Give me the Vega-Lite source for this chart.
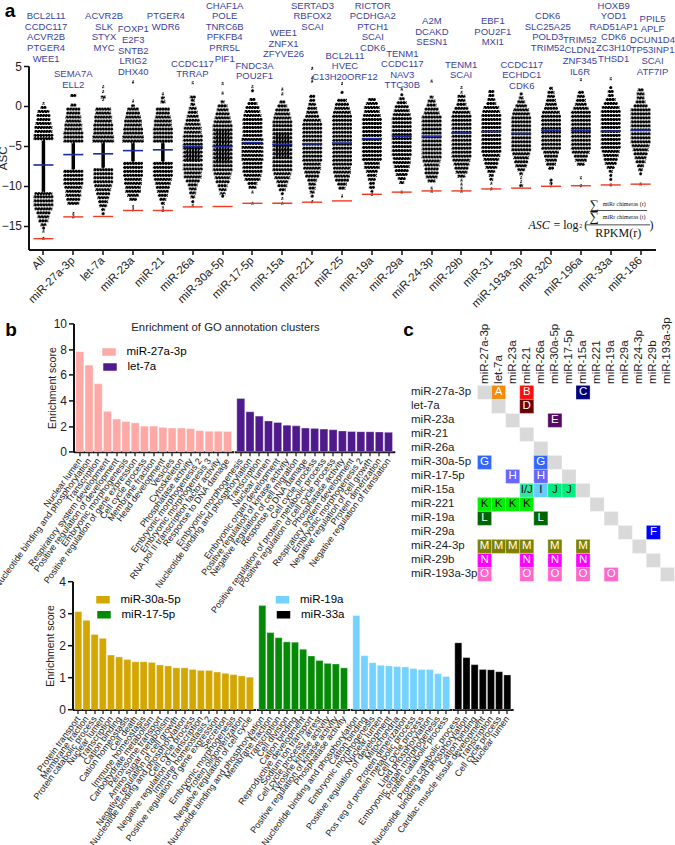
{"$schema":"https://vega.github.io/schema/vega-lite/v6.json","background":"white","padding":{"left":-7.5,"top":0,"right":0,"bottom":0},"bounds":"flush","spacing":73.4,"resolve":{"scale":{"color":"independent","size":"independent"},"legend":{"color":"independent"}},"config":{"font":"Liberation Sans","view":{"stroke":null},"axis":{"domainColor":"#111","tickColor":"#111","labelColor":"#222","titleColor":"#222","grid":false,"titleFontWeight":"normal"},"legend":{"orient":"none"}},
"vconcat":[
{"width":627,"height":183.6,"resolve":{"scale":{"x":"independent"}},"layer":[
{"layer":[
{"data":{"values":[{"m":"All","a":-4.2,"b":-10.9},{"m":"miR-27a-3p","a":-4.5,"b":-8},{"m":"let-7a","a":-4.5,"b":-7.8},{"m":"miR-23a","a":-4.5,"b":-7},{"m":"miR-21","a":-4.5,"b":-7}]},"mark":{"type":"rule","strokeWidth":3.5,"color":"#000"},"encoding":{"x":{"field":"m","type":"nominal","sort":null},"y":{"field":"a","type":"quantitative"},"y2":{"field":"b"}}},
{"data":{"values":[{"m":"miR-26a","a":-5.2,"b":-7},{"m":"miR-30a-5p","a":-3,"b":-7.2},{"m":"miR-15a","a":-3.3,"b":-6.5}]},"mark":{"type":"rule","strokeWidth":15,"color":"#000"},"encoding":{"x":{"field":"m","type":"nominal","sort":null},"y":{"field":"a","type":"quantitative"},"y2":{"field":"b"}}},
{"data":{"values":[
{"m":"All","a":0.3,"w":2},{"m":"All","a":-0.2,"w":6},{"m":"All","a":-0.7,"w":12},{"m":"All","a":-1.2,"w":14},{"m":"All","a":-1.7,"w":14},{"m":"All","a":-2.2,"w":16},{"m":"All","a":-2.7,"w":18},{"m":"All","a":-3.2,"w":18},{"m":"All","a":-3.7,"w":20},{"m":"All","a":-4.1,"w":20},{"m":"All","a":-11,"w":18},{"m":"All","a":-11.4,"w":20},{"m":"All","a":-11.9,"w":20},{"m":"All","a":-12.4,"w":20},{"m":"All","a":-12.9,"w":18},{"m":"All","a":-13.4,"w":14},{"m":"All","a":-13.9,"w":12},{"m":"All","a":-14.4,"w":10},{"m":"All","a":-14.9,"w":6},{"m":"All","a":-15.3,"w":3},{"m":"All","a":-15.7,"w":2},{"m":"All","a":-16.6,"w":2},
{"m":"miR-27a-3p","a":1.3,"w":6},{"m":"miR-27a-3p","a":0.1,"w":6},{"m":"miR-27a-3p","a":-0.4,"w":14},{"m":"miR-27a-3p","a":-0.9,"w":14},{"m":"miR-27a-3p","a":-1.4,"w":16},{"m":"miR-27a-3p","a":-1.9,"w":16},{"m":"miR-27a-3p","a":-2.4,"w":18},{"m":"miR-27a-3p","a":-2.9,"w":18},{"m":"miR-27a-3p","a":-3.4,"w":20},{"m":"miR-27a-3p","a":-3.9,"w":20},{"m":"miR-27a-3p","a":-4.4,"w":20},{"m":"miR-27a-3p","a":-8.2,"w":20},{"m":"miR-27a-3p","a":-8.7,"w":20},{"m":"miR-27a-3p","a":-9.2,"w":20},{"m":"miR-27a-3p","a":-9.7,"w":20},{"m":"miR-27a-3p","a":-10.2,"w":18},{"m":"miR-27a-3p","a":-10.7,"w":16},{"m":"miR-27a-3p","a":-11.2,"w":16},{"m":"miR-27a-3p","a":-11.7,"w":14},{"m":"miR-27a-3p","a":-12.2,"w":12},{"m":"miR-27a-3p","a":-13.5,"w":2},{"m":"miR-27a-3p","a":-13.9,"w":2},
{"m":"let-7a","a":2.4,"w":2},{"m":"let-7a","a":1.8,"w":2},{"m":"let-7a","a":1.1,"w":5},{"m":"let-7a","a":0.8,"w":2},{"m":"let-7a","a":-0.4,"w":16},{"m":"let-7a","a":-0.9,"w":16},{"m":"let-7a","a":-1.4,"w":18},{"m":"let-7a","a":-1.9,"w":18},{"m":"let-7a","a":-2.4,"w":20},{"m":"let-7a","a":-2.9,"w":20},{"m":"let-7a","a":-3.4,"w":20},{"m":"let-7a","a":-3.9,"w":22},{"m":"let-7a","a":-4.4,"w":22},{"m":"let-7a","a":-8,"w":20},{"m":"let-7a","a":-8.5,"w":20},{"m":"let-7a","a":-9,"w":20},{"m":"let-7a","a":-9.5,"w":20},{"m":"let-7a","a":-10,"w":18},{"m":"let-7a","a":-10.5,"w":16},{"m":"let-7a","a":-11,"w":14},{"m":"let-7a","a":-11.5,"w":12},{"m":"let-7a","a":-12,"w":10},{"m":"let-7a","a":-12.5,"w":8},{"m":"let-7a","a":-13,"w":4},{"m":"let-7a","a":-13.5,"w":3},
{"m":"miR-23a","a":3,"w":2},{"m":"miR-23a","a":0.6,"w":2},{"m":"miR-23a","a":0,"w":4},{"m":"miR-23a","a":-0.4,"w":12},{"m":"miR-23a","a":-0.9,"w":14},{"m":"miR-23a","a":-1.4,"w":16},{"m":"miR-23a","a":-1.9,"w":18},{"m":"miR-23a","a":-2.4,"w":18},{"m":"miR-23a","a":-2.9,"w":20},{"m":"miR-23a","a":-3.4,"w":20},{"m":"miR-23a","a":-3.9,"w":22},{"m":"miR-23a","a":-4.4,"w":22},{"m":"miR-23a","a":-7.2,"w":20},{"m":"miR-23a","a":-7.7,"w":20},{"m":"miR-23a","a":-8.2,"w":20},{"m":"miR-23a","a":-8.7,"w":20},{"m":"miR-23a","a":-9.2,"w":18},{"m":"miR-23a","a":-9.7,"w":18},{"m":"miR-23a","a":-10.2,"w":16},{"m":"miR-23a","a":-10.7,"w":16},{"m":"miR-23a","a":-11.2,"w":12},{"m":"miR-23a","a":-11.7,"w":8},{"m":"miR-23a","a":-12.6,"w":2},{"m":"miR-23a","a":-13,"w":2},
{"m":"miR-21","a":1.5,"w":2},{"m":"miR-21","a":1,"w":4},{"m":"miR-21","a":0.5,"w":5},{"m":"miR-21","a":-0.4,"w":14},{"m":"miR-21","a":-0.9,"w":14},{"m":"miR-21","a":-1.4,"w":16},{"m":"miR-21","a":-1.9,"w":18},{"m":"miR-21","a":-2.4,"w":18},{"m":"miR-21","a":-2.9,"w":20},{"m":"miR-21","a":-3.4,"w":20},{"m":"miR-21","a":-3.9,"w":20},{"m":"miR-21","a":-4.4,"w":20},{"m":"miR-21","a":-7.2,"w":20},{"m":"miR-21","a":-7.7,"w":20},{"m":"miR-21","a":-8.2,"w":20},{"m":"miR-21","a":-8.7,"w":20},{"m":"miR-21","a":-9.2,"w":18},{"m":"miR-21","a":-9.7,"w":16},{"m":"miR-21","a":-10.2,"w":14},{"m":"miR-21","a":-10.7,"w":12},{"m":"miR-21","a":-11.2,"w":10},{"m":"miR-21","a":-11.7,"w":7},{"m":"miR-21","a":-12.2,"w":4},{"m":"miR-21","a":-12.7,"w":2},{"m":"miR-21","a":-13.1,"w":2},
{"m":"miR-26a","a":2.9,"w":2},{"m":"miR-26a","a":1.1,"w":6},{"m":"miR-26a","a":0.7,"w":4},{"m":"miR-26a","a":0.2,"w":5},{"m":"miR-26a","a":-0.3,"w":8},{"m":"miR-26a","a":-0.8,"w":10},{"m":"miR-26a","a":-1.3,"w":12},{"m":"miR-26a","a":-1.8,"w":14},{"m":"miR-26a","a":-2.3,"w":16},{"m":"miR-26a","a":-2.8,"w":18},{"m":"miR-26a","a":-3.3,"w":18},{"m":"miR-26a","a":-3.8,"w":20},{"m":"miR-26a","a":-4.3,"w":20},{"m":"miR-26a","a":-4.8,"w":20},{"m":"miR-26a","a":-5.3,"w":20},{"m":"miR-26a","a":-5.8,"w":20},{"m":"miR-26a","a":-6.3,"w":20},{"m":"miR-26a","a":-6.8,"w":20},{"m":"miR-26a","a":-7.4,"w":20},{"m":"miR-26a","a":-7.9,"w":20},{"m":"miR-26a","a":-8.4,"w":18},{"m":"miR-26a","a":-8.9,"w":18},{"m":"miR-26a","a":-9.4,"w":14},{"m":"miR-26a","a":-9.9,"w":10},{"m":"miR-26a","a":-10.4,"w":8},{"m":"miR-26a","a":-10.9,"w":7},{"m":"miR-26a","a":-11.4,"w":5},{"m":"miR-26a","a":-12,"w":3},{"m":"miR-26a","a":-12.5,"w":2},
{"m":"miR-30a-5p","a":2.8,"w":2},{"m":"miR-30a-5p","a":1.6,"w":2},{"m":"miR-30a-5p","a":0.5,"w":4},{"m":"miR-30a-5p","a":0,"w":10},{"m":"miR-30a-5p","a":-0.5,"w":12},{"m":"miR-30a-5p","a":-1,"w":14},{"m":"miR-30a-5p","a":-1.5,"w":16},{"m":"miR-30a-5p","a":-2,"w":18},{"m":"miR-30a-5p","a":-2.5,"w":20},{"m":"miR-30a-5p","a":-3,"w":20},{"m":"miR-30a-5p","a":-3.5,"w":20},{"m":"miR-30a-5p","a":-4,"w":20},{"m":"miR-30a-5p","a":-4.5,"w":20},{"m":"miR-30a-5p","a":-5,"w":20},{"m":"miR-30a-5p","a":-5.5,"w":20},{"m":"miR-30a-5p","a":-6,"w":20},{"m":"miR-30a-5p","a":-6.5,"w":20},{"m":"miR-30a-5p","a":-7,"w":20},{"m":"miR-30a-5p","a":-7.5,"w":20},{"m":"miR-30a-5p","a":-8,"w":20},{"m":"miR-30a-5p","a":-8.5,"w":18},{"m":"miR-30a-5p","a":-9,"w":16},{"m":"miR-30a-5p","a":-9.5,"w":14},{"m":"miR-30a-5p","a":-10,"w":10},{"m":"miR-30a-5p","a":-10.5,"w":8},{"m":"miR-30a-5p","a":-11,"w":6},{"m":"miR-30a-5p","a":-11.3,"w":3},
{"m":"miR-17-5p","a":2.4,"w":2},{"m":"miR-17-5p","a":1.9,"w":3},{"m":"miR-17-5p","a":0.8,"w":6},{"m":"miR-17-5p","a":0.3,"w":10},{"m":"miR-17-5p","a":-0.2,"w":14},{"m":"miR-17-5p","a":-0.7,"w":16},{"m":"miR-17-5p","a":-1.2,"w":18},{"m":"miR-17-5p","a":-1.7,"w":20},{"m":"miR-17-5p","a":-2.2,"w":20},{"m":"miR-17-5p","a":-2.7,"w":20},{"m":"miR-17-5p","a":-3.2,"w":20},{"m":"miR-17-5p","a":-3.7,"w":20},{"m":"miR-17-5p","a":-4.2,"w":22},{"m":"miR-17-5p","a":-4.7,"w":22},{"m":"miR-17-5p","a":-5.2,"w":22},{"m":"miR-17-5p","a":-5.7,"w":22},{"m":"miR-17-5p","a":-6.2,"w":22},{"m":"miR-17-5p","a":-6.7,"w":22},{"m":"miR-17-5p","a":-7.2,"w":20},{"m":"miR-17-5p","a":-7.7,"w":20},{"m":"miR-17-5p","a":-8.2,"w":20},{"m":"miR-17-5p","a":-8.7,"w":18},{"m":"miR-17-5p","a":-9.2,"w":16},{"m":"miR-17-5p","a":-9.7,"w":10},{"m":"miR-17-5p","a":-10.2,"w":8},{"m":"miR-17-5p","a":-10.8,"w":2},{"m":"miR-17-5p","a":-12.2,"w":2},
{"m":"miR-15a","a":2.1,"w":2},{"m":"miR-15a","a":1.5,"w":2},{"m":"miR-15a","a":0.5,"w":6},{"m":"miR-15a","a":0,"w":10},{"m":"miR-15a","a":-0.5,"w":14},{"m":"miR-15a","a":-1,"w":16},{"m":"miR-15a","a":-1.5,"w":18},{"m":"miR-15a","a":-2,"w":20},{"m":"miR-15a","a":-2.5,"w":20},{"m":"miR-15a","a":-3,"w":20},{"m":"miR-15a","a":-3.5,"w":20},{"m":"miR-15a","a":-4,"w":20},{"m":"miR-15a","a":-4.5,"w":20},{"m":"miR-15a","a":-5,"w":20},{"m":"miR-15a","a":-5.5,"w":20},{"m":"miR-15a","a":-6,"w":20},{"m":"miR-15a","a":-6.5,"w":20},{"m":"miR-15a","a":-7,"w":20},{"m":"miR-15a","a":-7.5,"w":20},{"m":"miR-15a","a":-8,"w":20},{"m":"miR-15a","a":-8.5,"w":18},{"m":"miR-15a","a":-9,"w":16},{"m":"miR-15a","a":-9.5,"w":12},{"m":"miR-15a","a":-10,"w":10},{"m":"miR-15a","a":-10.5,"w":7},{"m":"miR-15a","a":-11,"w":3},{"m":"miR-15a","a":-11.6,"w":2},{"m":"miR-15a","a":-12.2,"w":2},
{"m":"miR-221","a":4.7,"w":2},{"m":"miR-221","a":3.5,"w":2},{"m":"miR-221","a":3.1,"w":2},{"m":"miR-221","a":1.2,"w":6},{"m":"miR-221","a":0.7,"w":6},{"m":"miR-221","a":0.2,"w":8},{"m":"miR-221","a":-0.3,"w":10},{"m":"miR-221","a":-0.8,"w":12},{"m":"miR-221","a":-1.3,"w":14},{"m":"miR-221","a":-1.8,"w":18},{"m":"miR-221","a":-2.3,"w":20},{"m":"miR-221","a":-2.8,"w":20},{"m":"miR-221","a":-3.3,"w":20},{"m":"miR-221","a":-3.8,"w":20},{"m":"miR-221","a":-4.3,"w":20},{"m":"miR-221","a":-4.8,"w":20},{"m":"miR-221","a":-5.3,"w":20},{"m":"miR-221","a":-5.8,"w":20},{"m":"miR-221","a":-6.3,"w":20},{"m":"miR-221","a":-6.8,"w":20},{"m":"miR-221","a":-7.3,"w":18},{"m":"miR-221","a":-7.8,"w":18},{"m":"miR-221","a":-8.3,"w":16},{"m":"miR-221","a":-8.8,"w":14},{"m":"miR-221","a":-9.3,"w":10},{"m":"miR-221","a":-9.8,"w":8},{"m":"miR-221","a":-10.3,"w":7},{"m":"miR-221","a":-10.8,"w":5},{"m":"miR-221","a":-11.3,"w":3},{"m":"miR-221","a":-12,"w":2},
{"m":"miR-25","a":2.8,"w":2},{"m":"miR-25","a":1.7,"w":3},{"m":"miR-25","a":0.7,"w":10},{"m":"miR-25","a":0.2,"w":14},{"m":"miR-25","a":-0.3,"w":16},{"m":"miR-25","a":-0.8,"w":18},{"m":"miR-25","a":-1.3,"w":20},{"m":"miR-25","a":-1.8,"w":20},{"m":"miR-25","a":-2.3,"w":20},{"m":"miR-25","a":-2.8,"w":20},{"m":"miR-25","a":-3.3,"w":20},{"m":"miR-25","a":-3.8,"w":20},{"m":"miR-25","a":-4.3,"w":20},{"m":"miR-25","a":-4.8,"w":20},{"m":"miR-25","a":-5.3,"w":20},{"m":"miR-25","a":-5.8,"w":20},{"m":"miR-25","a":-6.3,"w":20},{"m":"miR-25","a":-6.8,"w":20},{"m":"miR-25","a":-7.3,"w":20},{"m":"miR-25","a":-7.8,"w":18},{"m":"miR-25","a":-8.3,"w":18},{"m":"miR-25","a":-8.8,"w":16},{"m":"miR-25","a":-9.3,"w":14},{"m":"miR-25","a":-9.8,"w":10},{"m":"miR-25","a":-10.3,"w":7},{"m":"miR-25","a":-11.3,"w":2},
{"m":"miR-19a","a":0.8,"w":8},{"m":"miR-19a","a":0.3,"w":12},{"m":"miR-19a","a":-0.2,"w":16},{"m":"miR-19a","a":-0.7,"w":16},{"m":"miR-19a","a":-1.2,"w":18},{"m":"miR-19a","a":-1.7,"w":20},{"m":"miR-19a","a":-2.2,"w":20},{"m":"miR-19a","a":-2.7,"w":20},{"m":"miR-19a","a":-3.2,"w":20},{"m":"miR-19a","a":-3.7,"w":20},{"m":"miR-19a","a":-4.2,"w":20},{"m":"miR-19a","a":-4.7,"w":20},{"m":"miR-19a","a":-5.2,"w":20},{"m":"miR-19a","a":-5.7,"w":20},{"m":"miR-19a","a":-6.2,"w":20},{"m":"miR-19a","a":-6.7,"w":20},{"m":"miR-19a","a":-7.2,"w":16},{"m":"miR-19a","a":-7.7,"w":16},{"m":"miR-19a","a":-8.2,"w":12},{"m":"miR-19a","a":-8.7,"w":10},{"m":"miR-19a","a":-9.2,"w":8},{"m":"miR-19a","a":-9.7,"w":6},{"m":"miR-19a","a":-10.2,"w":6},{"m":"miR-19a","a":-10.7,"w":3},{"m":"miR-19a","a":-11.1,"w":2},
{"m":"miR-29a","a":2.1,"w":2},{"m":"miR-29a","a":1.4,"w":3},{"m":"miR-29a","a":0.9,"w":6},{"m":"miR-29a","a":0.4,"w":10},{"m":"miR-29a","a":-0.1,"w":14},{"m":"miR-29a","a":-0.6,"w":16},{"m":"miR-29a","a":-1.1,"w":18},{"m":"miR-29a","a":-1.6,"w":20},{"m":"miR-29a","a":-2.1,"w":20},{"m":"miR-29a","a":-2.6,"w":20},{"m":"miR-29a","a":-3.1,"w":20},{"m":"miR-29a","a":-3.6,"w":20},{"m":"miR-29a","a":-4.1,"w":20},{"m":"miR-29a","a":-4.6,"w":20},{"m":"miR-29a","a":-5.1,"w":20},{"m":"miR-29a","a":-5.6,"w":20},{"m":"miR-29a","a":-6.1,"w":20},{"m":"miR-29a","a":-6.6,"w":18},{"m":"miR-29a","a":-7.1,"w":18},{"m":"miR-29a","a":-7.6,"w":16},{"m":"miR-29a","a":-8.1,"w":14},{"m":"miR-29a","a":-8.6,"w":12},{"m":"miR-29a","a":-9.1,"w":8},{"m":"miR-29a","a":-9.6,"w":5},{"m":"miR-29a","a":-10.8,"w":2},
{"m":"miR-24-3p","a":3.1,"w":2},{"m":"miR-24-3p","a":1.1,"w":4},{"m":"miR-24-3p","a":0.6,"w":8},{"m":"miR-24-3p","a":0.1,"w":10},{"m":"miR-24-3p","a":-0.4,"w":14},{"m":"miR-24-3p","a":-0.9,"w":16},{"m":"miR-24-3p","a":-1.4,"w":20},{"m":"miR-24-3p","a":-1.9,"w":20},{"m":"miR-24-3p","a":-2.4,"w":20},{"m":"miR-24-3p","a":-2.9,"w":20},{"m":"miR-24-3p","a":-3.4,"w":20},{"m":"miR-24-3p","a":-3.9,"w":20},{"m":"miR-24-3p","a":-4.4,"w":20},{"m":"miR-24-3p","a":-4.9,"w":20},{"m":"miR-24-3p","a":-5.4,"w":20},{"m":"miR-24-3p","a":-5.9,"w":20},{"m":"miR-24-3p","a":-6.4,"w":20},{"m":"miR-24-3p","a":-6.9,"w":18},{"m":"miR-24-3p","a":-7.4,"w":16},{"m":"miR-24-3p","a":-7.9,"w":14},{"m":"miR-24-3p","a":-8.4,"w":14},{"m":"miR-24-3p","a":-8.9,"w":12},{"m":"miR-24-3p","a":-9.4,"w":8},{"m":"miR-24-3p","a":-10.3,"w":2},{"m":"miR-24-3p","a":-10.7,"w":2},
{"m":"miR-29b","a":2.3,"w":2},{"m":"miR-29b","a":1.7,"w":2},{"m":"miR-29b","a":1.2,"w":8},{"m":"miR-29b","a":0.7,"w":8},{"m":"miR-29b","a":0.2,"w":10},{"m":"miR-29b","a":-0.3,"w":14},{"m":"miR-29b","a":-0.8,"w":18},{"m":"miR-29b","a":-1.3,"w":20},{"m":"miR-29b","a":-1.8,"w":20},{"m":"miR-29b","a":-2.3,"w":20},{"m":"miR-29b","a":-2.8,"w":20},{"m":"miR-29b","a":-3.3,"w":20},{"m":"miR-29b","a":-3.8,"w":20},{"m":"miR-29b","a":-4.3,"w":20},{"m":"miR-29b","a":-4.8,"w":20},{"m":"miR-29b","a":-5.3,"w":20},{"m":"miR-29b","a":-5.8,"w":20},{"m":"miR-29b","a":-6.3,"w":20},{"m":"miR-29b","a":-6.8,"w":18},{"m":"miR-29b","a":-7.3,"w":16},{"m":"miR-29b","a":-7.8,"w":14},{"m":"miR-29b","a":-8.3,"w":12},{"m":"miR-29b","a":-8.8,"w":8},{"m":"miR-29b","a":-9.3,"w":2},{"m":"miR-29b","a":-9.8,"w":2},{"m":"miR-29b","a":-10.3,"w":2},{"m":"miR-29b","a":-10.7,"w":2},
{"m":"miR-31","a":1.8,"w":6},{"m":"miR-31","a":1.3,"w":6},{"m":"miR-31","a":0.8,"w":8},{"m":"miR-31","a":0.3,"w":10},{"m":"miR-31","a":-0.2,"w":16},{"m":"miR-31","a":-0.7,"w":18},{"m":"miR-31","a":-1.2,"w":20},{"m":"miR-31","a":-1.7,"w":20},{"m":"miR-31","a":-2.2,"w":20},{"m":"miR-31","a":-2.7,"w":20},{"m":"miR-31","a":-3.2,"w":20},{"m":"miR-31","a":-3.7,"w":20},{"m":"miR-31","a":-4.2,"w":20},{"m":"miR-31","a":-4.7,"w":20},{"m":"miR-31","a":-5.2,"w":20},{"m":"miR-31","a":-5.7,"w":20},{"m":"miR-31","a":-6.2,"w":18},{"m":"miR-31","a":-6.7,"w":16},{"m":"miR-31","a":-7.2,"w":14},{"m":"miR-31","a":-7.7,"w":12},{"m":"miR-31","a":-8.2,"w":8},{"m":"miR-31","a":-8.7,"w":5},{"m":"miR-31","a":-9.2,"w":4},{"m":"miR-31","a":-9.7,"w":2},{"m":"miR-31","a":-10.4,"w":2},
{"m":"miR-193a-3p","a":1.5,"w":3},{"m":"miR-193a-3p","a":1,"w":5},{"m":"miR-193a-3p","a":0.5,"w":8},{"m":"miR-193a-3p","a":0,"w":12},{"m":"miR-193a-3p","a":-0.5,"w":16},{"m":"miR-193a-3p","a":-1,"w":18},{"m":"miR-193a-3p","a":-1.5,"w":20},{"m":"miR-193a-3p","a":-2,"w":20},{"m":"miR-193a-3p","a":-2.5,"w":20},{"m":"miR-193a-3p","a":-3,"w":20},{"m":"miR-193a-3p","a":-3.5,"w":20},{"m":"miR-193a-3p","a":-4,"w":20},{"m":"miR-193a-3p","a":-4.5,"w":20},{"m":"miR-193a-3p","a":-5,"w":20},{"m":"miR-193a-3p","a":-5.5,"w":20},{"m":"miR-193a-3p","a":-6,"w":18},{"m":"miR-193a-3p","a":-6.5,"w":16},{"m":"miR-193a-3p","a":-7,"w":14},{"m":"miR-193a-3p","a":-7.5,"w":12},{"m":"miR-193a-3p","a":-8,"w":8},{"m":"miR-193a-3p","a":-8.5,"w":4},{"m":"miR-193a-3p","a":-9,"w":2},{"m":"miR-193a-3p","a":-9.5,"w":2},{"m":"miR-193a-3p","a":-10,"w":4},
{"m":"miR-320","a":2.2,"w":4},{"m":"miR-320","a":1.7,"w":7},{"m":"miR-320","a":1.2,"w":8},{"m":"miR-320","a":0.7,"w":10},{"m":"miR-320","a":0.2,"w":12},{"m":"miR-320","a":-0.3,"w":14},{"m":"miR-320","a":-0.8,"w":18},{"m":"miR-320","a":-1.3,"w":20},{"m":"miR-320","a":-1.8,"w":20},{"m":"miR-320","a":-2.3,"w":20},{"m":"miR-320","a":-2.8,"w":20},{"m":"miR-320","a":-3.3,"w":20},{"m":"miR-320","a":-3.8,"w":20},{"m":"miR-320","a":-4.3,"w":20},{"m":"miR-320","a":-4.8,"w":20},{"m":"miR-320","a":-5.3,"w":20},{"m":"miR-320","a":-5.8,"w":16},{"m":"miR-320","a":-6.3,"w":14},{"m":"miR-320","a":-6.8,"w":12},{"m":"miR-320","a":-7.3,"w":10},{"m":"miR-320","a":-7.8,"w":6},{"m":"miR-320","a":-9.3,"w":3},{"m":"miR-320","a":-9.7,"w":3},{"m":"miR-320","a":-10,"w":2},
{"m":"miR-196a","a":3.3,"w":2},{"m":"miR-196a","a":1.7,"w":6},{"m":"miR-196a","a":1.2,"w":8},{"m":"miR-196a","a":0.7,"w":10},{"m":"miR-196a","a":0.2,"w":12},{"m":"miR-196a","a":-0.3,"w":16},{"m":"miR-196a","a":-0.8,"w":20},{"m":"miR-196a","a":-1.3,"w":20},{"m":"miR-196a","a":-1.8,"w":20},{"m":"miR-196a","a":-2.3,"w":20},{"m":"miR-196a","a":-2.8,"w":20},{"m":"miR-196a","a":-3.3,"w":20},{"m":"miR-196a","a":-3.8,"w":20},{"m":"miR-196a","a":-4.3,"w":20},{"m":"miR-196a","a":-4.8,"w":20},{"m":"miR-196a","a":-5.3,"w":20},{"m":"miR-196a","a":-5.8,"w":18},{"m":"miR-196a","a":-6.3,"w":14},{"m":"miR-196a","a":-6.8,"w":12},{"m":"miR-196a","a":-7.3,"w":8},{"m":"miR-196a","a":-9,"w":2},{"m":"miR-196a","a":-10,"w":2},
{"m":"miR-33a","a":3.4,"w":2},{"m":"miR-33a","a":2.3,"w":3},{"m":"miR-33a","a":1.8,"w":6},{"m":"miR-33a","a":1.3,"w":6},{"m":"miR-33a","a":0.8,"w":10},{"m":"miR-33a","a":0.3,"w":14},{"m":"miR-33a","a":-0.2,"w":18},{"m":"miR-33a","a":-0.7,"w":20},{"m":"miR-33a","a":-1.2,"w":20},{"m":"miR-33a","a":-1.7,"w":20},{"m":"miR-33a","a":-2.2,"w":20},{"m":"miR-33a","a":-2.7,"w":20},{"m":"miR-33a","a":-3.2,"w":20},{"m":"miR-33a","a":-3.7,"w":20},{"m":"miR-33a","a":-4.2,"w":20},{"m":"miR-33a","a":-4.7,"w":20},{"m":"miR-33a","a":-5.2,"w":20},{"m":"miR-33a","a":-5.7,"w":18},{"m":"miR-33a","a":-6.2,"w":16},{"m":"miR-33a","a":-6.7,"w":14},{"m":"miR-33a","a":-7.2,"w":12},{"m":"miR-33a","a":-7.7,"w":8},{"m":"miR-33a","a":-8.2,"w":4},{"m":"miR-33a","a":-8.7,"w":3},{"m":"miR-33a","a":-9.2,"w":3},{"m":"miR-33a","a":-9.9,"w":2},
{"m":"miR-186","a":2,"w":6},{"m":"miR-186","a":1.5,"w":8},{"m":"miR-186","a":1,"w":8},{"m":"miR-186","a":0.5,"w":10},{"m":"miR-186","a":0,"w":14},{"m":"miR-186","a":-0.5,"w":20},{"m":"miR-186","a":-1,"w":20},{"m":"miR-186","a":-1.5,"w":20},{"m":"miR-186","a":-2,"w":20},{"m":"miR-186","a":-2.5,"w":20},{"m":"miR-186","a":-3,"w":20},{"m":"miR-186","a":-3.5,"w":20},{"m":"miR-186","a":-4,"w":20},{"m":"miR-186","a":-4.5,"w":20},{"m":"miR-186","a":-5,"w":18},{"m":"miR-186","a":-5.5,"w":16},{"m":"miR-186","a":-6,"w":14},{"m":"miR-186","a":-6.5,"w":12},{"m":"miR-186","a":-7,"w":10},{"m":"miR-186","a":-7.5,"w":7},{"m":"miR-186","a":-8,"w":5},{"m":"miR-186","a":-8.5,"w":3},{"m":"miR-186","a":-9.8,"w":2}
]},"mark":{"type":"tick","orient":"horizontal","thickness":3,"fill":"#000","stroke":"#fff","strokeWidth":1.8,"strokeDash":[0.6,2.2],"opacity":1},"encoding":{"x":{"field":"m","type":"nominal","sort":null},"y":{"field":"a","type":"quantitative"},"size":{"field":"w","type":"quantitative","legend":null,"scale":{"domain":[0,24],"range":[0,24]}}}},
{"data":{"values":[{"m":"All","v":-7.4},{"m":"miR-27a-3p","v":-6.1},{"m":"let-7a","v":-6},{"m":"miR-23a","v":-5.6},{"m":"miR-21","v":-5.5},{"m":"miR-26a","v":-5.1},{"m":"miR-30a-5p","v":-5.1},{"m":"miR-17-5p","v":-4.6},{"m":"miR-15a","v":-4.8},{"m":"miR-221","v":-4.75},{"m":"miR-25","v":-4.65},{"m":"miR-19a","v":-4.1},{"m":"miR-29a","v":-3.8},{"m":"miR-24-3p","v":-3.8},{"m":"miR-29b","v":-3.4},{"m":"miR-31","v":-3.2},{"m":"miR-193a-3p","v":-3.45},{"m":"miR-320","v":-3.07},{"m":"miR-196a","v":-3.07},{"m":"miR-33a","v":-3.15},{"m":"miR-186","v":-3.05}]},"mark":{"type":"tick","orient":"horizontal","size":20,"thickness":1.6,"color":"#1c2c9c","opacity":1},"encoding":{"x":{"field":"m","type":"nominal","sort":null,"scale":{"paddingInner":0,"paddingOuter":0,"domain":["All","miR-27a-3p","let-7a","miR-23a","miR-21","miR-26a","miR-30a-5p","miR-17-5p","miR-15a","miR-221","miR-25","miR-19a","miR-29a","miR-24-3p","miR-29b","miR-31","miR-193a-3p","miR-320","miR-196a","miR-33a","miR-186"]},"axis":{"title":null,"labelAngle":-45,"labelAlign":"right","labelBaseline":"middle","labelFontSize":11.5,"labelPadding":4,"labelLimit":200,"labelOverlap":false,"domainWidth":2,"tickWidth":1.5,"tickSize":5}},"y":{"field":"v","type":"quantitative","scale":{"domain":[-18,5],"nice":false,"zero":false},"axis":{"title":"ASC","values":[-15,-10,-5,0,5],"labelFontSize":12,"titleFontSize":11.5,"titlePadding":-7.5,"domainWidth":2,"tickWidth":1.5,"tickSize":5}}}},
{"data":{"values":[{"m":"All","v":-16.63},{"m":"miR-27a-3p","v":-13.9},{"m":"let-7a","v":-13.85},{"m":"miR-23a","v":-13.1},{"m":"miR-21","v":-13.1},{"m":"miR-26a","v":-12.65},{"m":"miR-30a-5p","v":-12.6},{"m":"miR-17-5p","v":-12.2},{"m":"miR-15a","v":-12.2},{"m":"miR-221","v":-12.06},{"m":"miR-25","v":-11.9},{"m":"miR-19a","v":-11.07},{"m":"miR-29a","v":-10.8},{"m":"miR-24-3p","v":-10.65},{"m":"miR-29b","v":-10.65},{"m":"miR-31","v":-10.4},{"m":"miR-193a-3p","v":-10.3},{"m":"miR-320","v":-10.07},{"m":"miR-196a","v":-10},{"m":"miR-33a","v":-9.9},{"m":"miR-186","v":-9.8}]},"mark":{"type":"tick","orient":"horizontal","size":20,"thickness":1.4,"color":"#f0391f","opacity":1},"encoding":{"x":{"field":"m","type":"nominal","sort":null},"y":{"field":"v","type":"quantitative"}}}
]},
{"layer":[
{"data":{"values":[{"g":"BCL2L11","p":0.59,"a":11.23},{"g":"CCDC117","p":0.59,"a":9.9},{"g":"ACVR2B","p":0.59,"a":8.58},{"g":"PTGER4","p":0.59,"a":7.25},{"g":"WEE1","p":0.59,"a":5.92},{"g":"SEMA7A","p":1.5,"a":3.98},{"g":"ELL2","p":1.5,"a":2.65},{"g":"ACVR2B","p":2.53,"a":11.23},{"g":"SLK","p":2.53,"a":9.9},{"g":"STYX","p":2.53,"a":8.58},{"g":"MYC","p":2.53,"a":7.25},{"g":"FOXP1","p":3.51,"a":9.65},{"g":"E2F3","p":3.51,"a":8.25},{"g":"SNTB2","p":3.51,"a":6.92},{"g":"LRIG2","p":3.51,"a":5.6},{"g":"DHX40","p":3.51,"a":4.27},{"g":"PTGER4","p":4.6,"a":11.23},{"g":"WDR6","p":4.6,"a":9.9},{"g":"CCDC117","p":5.49,"a":5.3},{"g":"TRRAP","p":5.49,"a":3.98},{"g":"CHAF1A","p":6.57,"a":12.56},{"g":"POLE","p":6.57,"a":11.23},{"g":"TNRC6B","p":6.57,"a":9.9},{"g":"PFKFB4","p":6.57,"a":8.58},{"g":"PRR5L","p":6.57,"a":7.25},{"g":"PIF1","p":6.57,"a":5.92},{"g":"FNDC3A","p":7.57,"a":5.05},{"g":"POU2F1","p":7.57,"a":3.73},{"g":"WEE1","p":8.54,"a":9.12},{"g":"ZNFX1","p":8.54,"a":7.79},{"g":"ZFYVE26","p":8.54,"a":6.47},{"g":"SERTAD3","p":9.51,"a":12.56},{"g":"RBFOX2","p":9.51,"a":11.23},{"g":"SCAI","p":9.51,"a":9.9},{"g":"BCL2L11","p":10.6,"a":6.26},{"g":"HVEC","p":10.6,"a":4.98},{"g":"C13H20ORF12","p":10.6,"a":3.64},{"g":"RICTOR","p":11.53,"a":12.56},{"g":"PCDHGA2","p":11.53,"a":11.23},{"g":"PTCH1","p":11.53,"a":9.9},{"g":"SCAI","p":11.53,"a":8.58},{"g":"CDK6","p":11.53,"a":7.25},{"g":"TENM1","p":12.52,"a":6.54},{"g":"CCDC117","p":12.52,"a":5.22},{"g":"NAV3","p":12.52,"a":3.89},{"g":"TTC30B","p":12.52,"a":2.56},{"g":"A2M","p":13.51,"a":10.61},{"g":"DCAKD","p":13.51,"a":9.28},{"g":"SESN1","p":13.51,"a":7.96},{"g":"TENM1","p":14.49,"a":5.14},{"g":"SCAI","p":14.49,"a":3.81},{"g":"EBF1","p":15.55,"a":10.61},{"g":"POU2F1","p":15.55,"a":9.28},{"g":"MXI1","p":15.55,"a":7.96},{"g":"CCDC117","p":16.52,"a":5.14},{"g":"ECHDC1","p":16.52,"a":3.81},{"g":"CDK6","p":16.52,"a":2.49},{"g":"CDK6","p":17.39,"a":11.23},{"g":"SLC25A25","p":17.39,"a":9.9},{"g":"POLD3","p":17.39,"a":8.58},{"g":"TRIM52","p":17.39,"a":7.25},{"g":"TRIM52","p":18.47,"a":8.28},{"g":"CLDN1","p":18.47,"a":6.96},{"g":"ZNF345","p":18.47,"a":5.63},{"g":"IL6R","p":18.47,"a":4.3},{"g":"HOXB9","p":19.6,"a":12.56},{"g":"YOD1","p":19.6,"a":11.23},{"g":"RAD51AP1","p":19.6,"a":9.9},{"g":"CDK6","p":19.6,"a":8.58},{"g":"ZC3H10","p":19.6,"a":7.25},{"g":"THSD1","p":19.6,"a":5.92},{"g":"PPIL5","p":20.9,"a":10.95},{"g":"APLF","p":20.9,"a":9.62},{"g":"DCUN1D4","p":20.9,"a":8.28},{"g":"TP53INP1","p":20.9,"a":6.96},{"g":"SCAI","p":20.9,"a":5.63},{"g":"ATF7IP","p":20.9,"a":4.3}]},"mark":{"type":"text","fontSize":9.5,"color":"#3b3f9e","baseline":"middle"},"encoding":{"x":{"field":"p","type":"quantitative","scale":{"domain":[0,21],"nice":false,"zero":false},"axis":null},"y":{"field":"a","type":"quantitative"},"text":{"field":"g"}}},
{"data":{"values":[{"t":"a","p":-0.62,"a":11.85}]},"mark":{"type":"text","fontSize":19,"fontWeight":"bold","color":"#000"},"encoding":{"x":{"field":"p","type":"quantitative"},"y":{"field":"a","type":"quantitative"},"text":{"field":"t"}}},
{"data":{"values":[{"t":"ASC","p":17.1,"a":-14.9}]},"mark":{"type":"text","font":"Liberation Serif","fontSize":12,"fontStyle":"italic","color":"#111"},"encoding":{"x":{"field":"p","type":"quantitative"},"y":{"field":"a","type":"quantitative"},"text":{"field":"t"}}},
{"data":{"values":[{"t":"= log","p":18,"a":-14.9},{"t":"(","p":18.68,"a":-14.9},{"t":")","p":20.87,"a":-14.9},{"t":"RPKM(r)","p":19.75,"a":-15.95}]},"mark":{"type":"text","font":"Liberation Serif","fontSize":12,"color":"#111"},"encoding":{"x":{"field":"p","type":"quantitative"},"y":{"field":"a","type":"quantitative"},"text":{"field":"t"}}},
{"data":{"values":[{"t":"2","p":18.5,"a":-15.1},{"t":"miRr chimeras (r)","p":19.95,"a":-12.3},{"t":"miRr chimeras (t)","p":19.95,"a":-13.9}]},"mark":{"type":"text","font":"Liberation Serif","fontSize":6,"color":"#111"},"encoding":{"x":{"field":"p","type":"quantitative"},"y":{"field":"a","type":"quantitative"},"text":{"field":"t"}}},
{"data":{"values":[{"t":"∑","p":18.95,"a":-12.4},{"t":"∑","p":18.95,"a":-13.95}]},"mark":{"type":"text","font":"Liberation Serif","fontSize":13,"color":"#111"},"encoding":{"x":{"field":"p","type":"quantitative"},"y":{"field":"a","type":"quantitative"},"text":{"field":"t"}}},
{"data":{"values":[{"p":18.85,"q":20.72,"a":-13.1},{"p":18.68,"q":20.82,"a":-14.9}]},"mark":{"type":"rule","strokeWidth":0.8,"color":"#222"},"encoding":{"x":{"field":"p","type":"quantitative"},"x2":{"field":"q"},"y":{"field":"a","type":"quantitative"}}}
]}
]},
{"resolve":{"scale":{"color":"independent"},"legend":{"color":"independent"}},"hconcat":[
{"width":44.5,"height":128.4,"data":{"values":[{"t":"b"}]},"mark":{"type":"text","fontSize":19,"fontWeight":"bold","color":"#000"},"encoding":{"text":{"field":"t"},"x":{"value":-17.5},"y":{"value":7}}},
{"width":160.3,"height":128.4,"layer":[{"data":{"values":[{"t":"Nuclear lumen","s":"miR-27a-3p","e":7.8},{"t":"Nucleotide binding and phosphorylation","s":"miR-27a-3p","e":6.75},{"t":"Transcription","s":"miR-27a-3p","e":5.3},{"t":"Respiratory system development","s":"miR-27a-3p","e":3.15},{"t":"Positive regulation of development","s":"miR-27a-3p","e":2.55},{"t":"Embryonic morphogenesis","s":"miR-27a-3p","e":2.35},{"t":"Positive regulation of gene expression","s":"miR-27a-3p","e":2.25},{"t":"Cell cycle process","s":"miR-27a-3p","e":2},{"t":"Membrane fraction","s":"miR-27a-3p","e":2},{"t":"Head development","s":"miR-27a-3p","e":1.9},{"t":"Vesicles","s":"miR-27a-3p","e":1.85},{"t":"Cytoskeleton","s":"miR-27a-3p","e":1.85},{"t":"Phosphatase activity","s":"miR-27a-3p","e":1.8},{"t":"Embryonic morphogenesis 2","s":"miR-27a-3p","e":1.65},{"t":"Embryonic morphogenesis 3","s":"miR-27a-3p","e":1.6},{"t":"RNA pol II transcription factor activity","s":"miR-27a-3p","e":1.6},{"t":"Response to DNA damage","s":"miR-27a-3p","e":1.58}]},"mark":{"type":"bar","stroke":"#ffffff","strokeOpacity":0.3},"encoding":{"x":{"field":"t","type":"nominal","sort":null,"scale":{"paddingInner":0.14,"paddingOuter":0.25},"axis":{"title":null,"labelAngle":-54,"labelAlign":"right","labelBaseline":"middle","labelFontSize":9,"labelLimit":400,"labelOverlap":false,"labelPadding":3,"domainWidth":2,"tickWidth":1.2,"tickSize":4}},"y":{"field":"e","type":"quantitative","scale":{"domain":[0,10]},"axis":{"title":"Enrichment score","values":[0,2,4,6,8,10],"labelFontSize":12,"titleFontSize":10.5,"titlePadding":-4,"domainWidth":2,"tickWidth":1.5,"tickSize":5}},"color":{"field":"s","type":"nominal","scale":{"range":["#ffa9a6"]},"legend":{"title":null,"orient":"none","legendX":27,"legendY":20,"symbolType":"M-1,-0.6H1V0.6H-1Z","symbolSize":225,"symbolOpacity":1,"labelFontSize":11.5,"labelOffset":9}}}},
{"data":{"values":[{"t":"Enrichment of GO annotation clusters"}]},"mark":{"type":"text","fontSize":11.3,"color":"#222","align":"center"},"encoding":{"text":{"field":"t"},"x":{"value":152},"y":{"value":5}}}]},
{"width":160.3,"height":128.4,"data":{"values":[{"t":"Embryonic morphogenesis","s":"let-7a","e":4.15},{"t":"Nucleotide binding and phosphorylation","s":"let-7a","e":3.12},{"t":"Transcription","s":"let-7a","e":2.78},{"t":"Nuclear lumen","s":"let-7a","e":2.4},{"t":"Embryonic organ development","s":"let-7a","e":2.28},{"t":"Positive regulation of kinase activity","s":"let-7a","e":2.07},{"t":"Negative regulation of cell migration","s":"let-7a","e":2.02},{"t":"Response to DNA damage","s":"let-7a","e":1.85},{"t":"Cell cycle process","s":"let-7a","e":1.82},{"t":"Positive regulation of protein metabolic process","s":"let-7a","e":1.77},{"t":"Positive regulation of cell cycle process","s":"let-7a","e":1.72},{"t":"Phosphatase activity","s":"let-7a","e":1.62},{"t":"Respiratory system development","s":"let-7a","e":1.58},{"t":"Embryonic morphogenesis 2","s":"let-7a","e":1.57},{"t":"Negative regulation of cell growth","s":"let-7a","e":1.56},{"t":"Protein dimerization","s":"let-7a","e":1.54},{"t":"Negative regulation of translation","s":"let-7a","e":1.52}]},"mark":{"type":"bar","stroke":"#ffffff","strokeOpacity":0.3},"encoding":{"x":{"field":"t","type":"nominal","sort":null,"scale":{"paddingInner":0.14,"paddingOuter":0.25},"axis":{"title":null,"labelAngle":-54,"labelAlign":"right","labelBaseline":"middle","labelFontSize":9,"labelLimit":400,"labelOverlap":false,"labelPadding":3,"domainWidth":2,"tickWidth":1.2,"tickSize":4}},"y":{"field":"e","type":"quantitative","scale":{"domain":[0,10]},"axis":null},"color":{"field":"s","type":"nominal","scale":{"range":["#4f1a8c"]},"legend":{"title":null,"orient":"none","legendX":-133,"legendY":35,"symbolType":"M-1,-0.6H1V0.6H-1Z","symbolSize":225,"symbolOpacity":1,"labelFontSize":11.5,"labelOffset":9}}}},
{"width":81.4,"height":128.4,"data":{"values":[{"t":""}]},"mark":{"type":"text"},"encoding":{"text":{"field":"t"}}},
{"spacing":0,"bounds":"flush","resolve":{"scale":{"color":"independent"}},"vconcat":[
{"width":197,"height":62,"data":{"values":[{"t":"c"}]},"mark":{"type":"text","fontSize":19,"fontWeight":"bold","color":"#000"},"encoding":{"text":{"field":"t"},"x":{"value":-69},"y":{"value":7}}},
{"width":197,"height":196,"data":{"values":[{"r":"miR-27a-3p","c":"miR-27a-3p","l":"diag"},{"r":"miR-27a-3p","c":"let-7a","l":"A"},{"r":"miR-27a-3p","c":"miR-21","l":"B"},{"r":"miR-27a-3p","c":"miR-15a","l":"C"},{"r":"let-7a","c":"let-7a","l":"diag"},{"r":"let-7a","c":"miR-21","l":"D"},{"r":"miR-23a","c":"miR-23a","l":"diag"},{"r":"miR-23a","c":"miR-30a-5p","l":"E"},{"r":"miR-21","c":"miR-21","l":"diag"},{"r":"miR-26a","c":"miR-26a","l":"diag"},{"r":"miR-30a-5p","c":"miR-27a-3p","l":"G"},{"r":"miR-30a-5p","c":"miR-26a","l":"G"},{"r":"miR-30a-5p","c":"miR-30a-5p","l":"diag"},{"r":"miR-17-5p","c":"miR-23a","l":"H"},{"r":"miR-17-5p","c":"miR-26a","l":"H"},{"r":"miR-17-5p","c":"miR-17-5p","l":"diag"},{"r":"miR-15a","c":"miR-21","l":"I/J"},{"r":"miR-15a","c":"miR-26a","l":"I"},{"r":"miR-15a","c":"miR-30a-5p","l":"J"},{"r":"miR-15a","c":"miR-17-5p","l":"J"},{"r":"miR-15a","c":"miR-15a","l":"diag"},{"r":"miR-221","c":"miR-27a-3p","l":"K"},{"r":"miR-221","c":"let-7a","l":"K"},{"r":"miR-221","c":"miR-23a","l":"K"},{"r":"miR-221","c":"miR-21","l":"K"},{"r":"miR-221","c":"miR-221","l":"diag"},{"r":"miR-19a","c":"miR-27a-3p","l":"L"},{"r":"miR-19a","c":"miR-26a","l":"L"},{"r":"miR-19a","c":"miR-19a","l":"diag"},{"r":"miR-29a","c":"miR-29a","l":"diag"},{"r":"miR-29a","c":"miR-29b","l":"F"},{"r":"miR-24-3p","c":"miR-27a-3p","l":"M"},{"r":"miR-24-3p","c":"let-7a","l":"M"},{"r":"miR-24-3p","c":"miR-23a","l":"M"},{"r":"miR-24-3p","c":"miR-21","l":"M"},{"r":"miR-24-3p","c":"miR-30a-5p","l":"M"},{"r":"miR-24-3p","c":"miR-15a","l":"M"},{"r":"miR-24-3p","c":"miR-24-3p","l":"diag"},{"r":"miR-29b","c":"miR-27a-3p","l":"N"},{"r":"miR-29b","c":"miR-21","l":"N"},{"r":"miR-29b","c":"miR-30a-5p","l":"N"},{"r":"miR-29b","c":"miR-15a","l":"N"},{"r":"miR-29b","c":"miR-29b","l":"diag"},{"r":"miR-193a-3p","c":"miR-27a-3p","l":"O"},{"r":"miR-193a-3p","c":"miR-21","l":"O"},{"r":"miR-193a-3p","c":"miR-30a-5p","l":"O"},{"r":"miR-193a-3p","c":"miR-15a","l":"O"},{"r":"miR-193a-3p","c":"miR-19a","l":"O"},{"r":"miR-193a-3p","c":"miR-193a-3p","l":"diag"}]},"encoding":{"x":{"field":"c","type":"nominal","scale":{"domain":["miR-27a-3p","let-7a","miR-23a","miR-21","miR-26a","miR-30a-5p","miR-17-5p","miR-15a","miR-221","miR-19a","miR-29a","miR-24-3p","miR-29b","miR-193a-3p"],"paddingInner":0,"paddingOuter":0},"axis":{"orient":"top","title":null,"labelAngle":-90,"labelAlign":"left","labelBaseline":"middle","labelFontSize":11.5,"labelPadding":2,"labelLimit":100,"ticks":false,"domain":false}},"y":{"field":"r","type":"nominal","scale":{"domain":["miR-27a-3p","let-7a","miR-23a","miR-21","miR-26a","miR-30a-5p","miR-17-5p","miR-15a","miR-221","miR-19a","miR-29a","miR-24-3p","miR-29b","miR-193a-3p"],"paddingInner":0,"paddingOuter":0},"axis":{"title":null,"labelAlign":"left","labelFontSize":11.5,"labelPadding":67,"labelLimit":100,"ticks":false,"domain":false}}},"layer":[{"mark":{"type":"rect","stroke":"#fff","strokeOpacity":0.5,"strokeWidth":0.6},"encoding":{"color":{"field":"l","type":"nominal","legend":null,"scale":{"domain":["diag","A","B","C","D","E","F","G","H","I/J","I","J","K","L","M","N","O"],"range":["#d9d9d9","#f58a0b","#fb0d0d","#00007f","#6b0000","#560a66","#0000ff","#3366ff","#6666ff","#2ee6a0","#66ccff","#00ee80","#00ee00","#006600","#808000","#ff00ff","#ff66cc"]}}}},{"transform":[{"filter":"datum.l!='diag'"}],"mark":{"type":"text","fontSize":11.5},"encoding":{"text":{"field":"l"},"color":{"condition":{"test":"indexof(['K','I','J','I/J'],datum.l)>=0","value":"#111"},"value":"#fff"}}}],"resolve":{"scale":{"color":"independent"}}}
]}
],"spacing":0,"bounds":"flush"},
{"width":10,"height":110.9,"data":{"values":[{"t":""}]},"mark":{"type":"text"},"encoding":{"text":{"field":"t"}}},
{"resolve":{"scale":{"color":"independent"},"legend":{"color":"independent"}},"hconcat":[
{"width":43.4,"height":128.4,"data":{"values":[{"t":""}]},"mark":{"type":"text"},"encoding":{"text":{"field":"t"}}},
{"width":183.2,"height":128.4,"data":{"values":[{"t":"Protein transport","s":"miR-30a-5p","e":3.05},{"t":"Membrane fraction","s":"miR-30a-5p","e":2.78},{"t":"Protein catabolic process","s":"miR-30a-5p","e":2.34},{"t":"Nuclear lumen","s":"miR-30a-5p","e":2.22},{"t":"Transcription","s":"miR-30a-5p","e":1.7},{"t":"Cation binding","s":"miR-30a-5p","e":1.64},{"t":"Cation homeostasis","s":"miR-30a-5p","e":1.56},{"t":"Cell death","s":"miR-30a-5p","e":1.49},{"t":"Immune homeostasis","s":"miR-30a-5p","e":1.49},{"t":"Carbohydrate metabolism","s":"miR-30a-5p","e":1.47},{"t":"Peroxisome transport","s":"miR-30a-5p","e":1.39},{"t":"Amino sugar metabolism","s":"miR-30a-5p","e":1.36},{"t":"Negative regulation of cell growth","s":"miR-30a-5p","e":1.3},{"t":"Nucleotide binding and phosphorylation","s":"miR-30a-5p","e":1.3},{"t":"Cell cycle process","s":"miR-30a-5p","e":1.25},{"t":"Negative regulation of transcription","s":"miR-30a-5p","e":1.22},{"t":"Immune homeostasis 2","s":"miR-30a-5p","e":1.22},{"t":"Positive regulation of gene expression","s":"miR-30a-5p","e":1.17},{"t":"Secretion","s":"miR-30a-5p","e":1.13},{"t":"Embryonic morphogenesis","s":"miR-30a-5p","e":1.09},{"t":"Protein oligomerization","s":"miR-30a-5p","e":1.05},{"t":"Negative regulation of cell cycle","s":"miR-30a-5p","e":1.01}]},"mark":{"type":"bar","stroke":"#ffffff","strokeOpacity":0.3},"encoding":{"x":{"field":"t","type":"nominal","sort":null,"scale":{"paddingInner":0.14,"paddingOuter":0.28},"axis":{"title":null,"labelAngle":-54,"labelAlign":"right","labelBaseline":"middle","labelFontSize":9,"labelLimit":400,"labelOverlap":false,"labelPadding":3,"domainWidth":2,"tickWidth":1.2,"tickSize":4}},"y":{"field":"e","type":"quantitative","scale":{"domain":[0,4]},"axis":{"title":"Enrichment score","values":[0,1,2,3,4],"labelFontSize":12,"titleFontSize":10.5,"titlePadding":3.5,"domainWidth":2,"tickWidth":1.5,"tickSize":5}},"color":{"field":"s","type":"nominal","scale":{"range":["#d4a600"]},"legend":{"title":null,"orient":"none","legendX":22,"legendY":10,"symbolType":"M-1,-0.6H1V0.6H-1Z","symbolSize":225,"symbolOpacity":1,"labelFontSize":11.5,"labelOffset":9}}}},
{"width":93.3,"height":128.4,"data":{"values":[{"t":"Nucleotide binding and phosphorylation","s":"miR-17-5p","e":3.24},{"t":"Membrane fraction","s":"miR-17-5p","e":2.4},{"t":"Transcription","s":"miR-17-5p","e":2.24},{"t":"Cell division","s":"miR-17-5p","e":2.11},{"t":"Cation binding","s":"miR-17-5p","e":2.1},{"t":"Reproductive development","s":"miR-17-5p","e":1.88},{"t":"Sodium ion transport","s":"miR-17-5p","e":1.67},{"t":"Cell cycle process / arrest","s":"miR-17-5p","e":1.53},{"t":"Tyrosine kinase activity","s":"miR-17-5p","e":1.44},{"t":"Positive regulation of kinase activity","s":"miR-17-5p","e":1.42},{"t":"Phosphatase activity","s":"miR-17-5p","e":1.3}]},"mark":{"type":"bar","stroke":"#ffffff","strokeOpacity":0.3},"encoding":{"x":{"field":"t","type":"nominal","sort":null,"scale":{"paddingInner":0.14,"paddingOuter":0.28},"axis":{"title":null,"labelAngle":-54,"labelAlign":"right","labelBaseline":"middle","labelFontSize":9,"labelLimit":400,"labelOverlap":false,"labelPadding":3,"domainWidth":2,"tickWidth":1.2,"tickSize":4}},"y":{"field":"e","type":"quantitative","scale":{"domain":[0,4]},"axis":null},"color":{"field":"s","type":"nominal","scale":{"range":["#048a04"]},"legend":{"title":null,"orient":"none","legendX":-161,"legendY":25,"symbolType":"M-1,-0.6H1V0.6H-1Z","symbolSize":225,"symbolOpacity":1,"labelFontSize":11.5,"labelOffset":9}}}},
{"width":101.5,"height":128.4,"data":{"values":[{"t":"Nucleotide binding and phosphorylation","s":"miR-19a","e":2.93},{"t":"Cation binding","s":"miR-19a","e":1.68},{"t":"Embryonic morphogenesis","s":"miR-19a","e":1.46},{"t":"Nuclear lumen","s":"miR-19a","e":1.38},{"t":"Positive regulation of development","s":"miR-19a","e":1.36},{"t":"Mitochondria","s":"miR-19a","e":1.34},{"t":"Protein dimerization","s":"miR-19a","e":1.33},{"t":"Pos reg of protein metabolic process","s":"miR-19a","e":1.28},{"t":"Cell cycle process","s":"miR-19a","e":1.25},{"t":"Lipid phosphorylation","s":"miR-19a","e":1.25},{"t":"Embryonic organ morphogenesis","s":"miR-19a","e":1.12},{"t":"Protein catabolic process","s":"miR-19a","e":1.03}]},"mark":{"type":"bar","stroke":"#ffffff","strokeOpacity":0.3},"encoding":{"x":{"field":"t","type":"nominal","sort":null,"scale":{"paddingInner":0.14,"paddingOuter":0.28},"axis":{"title":null,"labelAngle":-54,"labelAlign":"right","labelBaseline":"middle","labelFontSize":9,"labelLimit":400,"labelOverlap":false,"labelPadding":3,"domainWidth":2,"tickWidth":1.2,"tickSize":4}},"y":{"field":"e","type":"quantitative","scale":{"domain":[0,4]},"axis":null},"color":{"field":"s","type":"nominal","scale":{"range":["#73d2ff"]},"legend":{"title":null,"orient":"none","legendX":-76.5,"legendY":10,"symbolType":"M-1,-0.6H1V0.6H-1Z","symbolSize":225,"symbolOpacity":1,"labelFontSize":11.5,"labelOffset":9}}}},
{"width":60.6,"height":128.4,"data":{"values":[{"t":"Protein catabolic process","s":"miR-33a","e":2.08},{"t":"Nucleotide binding and phosphorylation","s":"miR-33a","e":1.62},{"t":"Cation binding","s":"miR-33a","e":1.4},{"t":"Cardiac muscle tissue development","s":"miR-33a","e":1.25},{"t":"Transcription","s":"miR-33a","e":1.24},{"t":"Cell cycle process","s":"miR-33a","e":1.18},{"t":"Nuclear lumen","s":"miR-33a","e":1.08}]},"mark":{"type":"bar","stroke":"#ffffff","strokeOpacity":0.3},"encoding":{"x":{"field":"t","type":"nominal","sort":null,"scale":{"paddingInner":0.14,"paddingOuter":0.28},"axis":{"title":null,"labelAngle":-54,"labelAlign":"right","labelBaseline":"middle","labelFontSize":9,"labelLimit":400,"labelOverlap":false,"labelPadding":3,"domainWidth":2,"tickWidth":1.2,"tickSize":4}},"y":{"field":"e","type":"quantitative","scale":{"domain":[0,4]},"axis":null},"color":{"field":"s","type":"nominal","scale":{"range":["#000000"]},"legend":{"title":null,"orient":"none","legendX":-177.5,"legendY":25,"symbolType":"M-1,-0.6H1V0.6H-1Z","symbolSize":225,"symbolOpacity":1,"labelFontSize":11.5,"labelOffset":9}}}}
],"spacing":0,"bounds":"flush"}
]}
